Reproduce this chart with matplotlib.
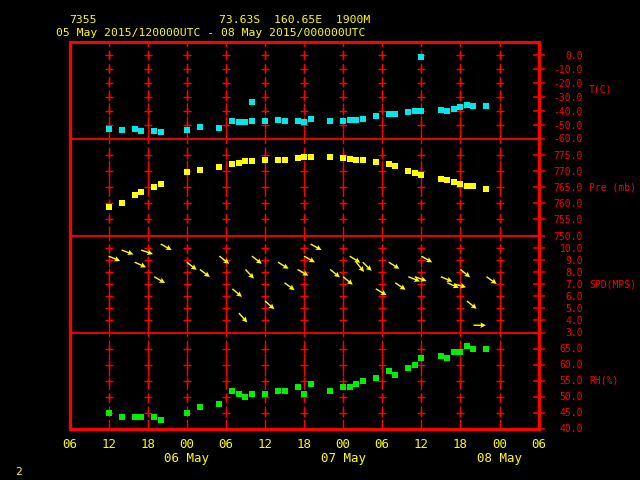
import numpy as np
import matplotlib
matplotlib.use("Agg")
import matplotlib.pyplot as plt
from matplotlib import transforms

# observation times, hours after 05 May 2015 12 UTC
hours = [0, 2, 4, 5, 7, 8, 12, 14, 17, 19, 20, 21, 22, 24, 26, 27, 29, 30, 31,
         34, 36, 37, 38, 39, 41, 43, 44, 46, 47, 48, 51, 52, 53, 54, 55, 56, 58]

temp = [-53.4, -54.1, -53.4, -54.8, -54.8, -55.5, -54.1, -51.9, -52.6, -47.6,
        -48.4, -48.4, -47.6, -47.6, -46.9, -47.6, -47.6, -48.4, -46.2, -47.6,
        -47.6, -46.9, -46.9, -46.2, -44.1, -42.6, -42.6, -41.2, -40.5, -39.8,
        -39.1, -39.8, -38.4, -37.6, -35.5, -36.9, -36.9]
# two extra (spurious) temperature reports
temp_extra_hours = [22, 48]
temp_extra = [-33.4, -1.2]

pres = [758.7, 760.2, 762.4, 763.3, 764.9, 765.8, 769.6, 770.2, 771.2, 772.1,
        772.4, 773.0, 773.0, 773.3, 773.3, 773.3, 774.0, 774.3, 774.3, 774.3,
        774.0, 773.7, 773.3, 773.3, 772.7, 772.1, 771.4, 769.9, 769.3, 768.7,
        767.4, 767.1, 766.5, 765.8, 765.2, 765.2, 764.3]

spd = [9.3, 9.8, 8.8, 9.8, 7.6, 10.3, 8.8, 8.2, 9.3, 6.6, 4.6, 8.2, 9.3, 5.6,
       8.8, 7.1, 8.2, 9.3, 10.3, 8.2, 7.6, 9.3, 8.8, 8.8, 6.6, 8.8, 7.1, 7.6,
       7.6, 9.3, 7.6, 7.1, 7.0, 8.2, 5.6, 3.6, 7.6]
wdir = [293, 290, 294, 289, 300, 299, 308, 307, 308, 310, 318, 317, 308, 311,
        302, 306, 300, 300, 299, 309, 310, 302, 321, 314, 300, 302, 304, 292,
        290, 300, 293, 294, 285, 309, 309, 270, 305]

rh = [44.8, 43.5, 43.5, 43.5, 43.5, 42.6, 44.8, 46.6, 47.6, 51.6, 50.7, 49.8,
      50.7, 50.7, 51.6, 51.6, 52.9, 50.7, 53.8, 51.6, 52.9, 52.9, 53.8, 54.7,
      55.7, 57.9, 56.6, 58.8, 59.7, 61.9, 62.8, 61.9, 63.8, 63.8, 65.9, 64.7,
      64.7]

xtick_hours = list(range(-6, 67, 6))
xtick_labels = ["06", "12", "18", "00", "06", "12", "18", "00", "06", "12", "18", "00", "06"]
date_hours = [12, 36, 60]
date_labels = ["06 May", "07 May", "08 May"]

panels = [
    ("T(C)", (-60, 10), np.arange(-60, 1, 10)),
    ("Pre (mb)", (750, 780), np.arange(750, 776, 5)),
    ("SPD(MPS)", (3, 11), np.arange(3, 11, 1)),
    ("RH(%)", (40, 70), np.arange(40, 66, 5)),
]

RED = "#ff0000"
YEL = "#ffff00"
FONT = "DejaVu Sans Mono"
plt.rcParams["font.family"] = FONT

fig = plt.figure(figsize=(6.4, 4.8), dpi=100, facecolor="black")

left_px, right_px = 69.5, 538.6
# panel edges in pixels from the top
edges_px = [41.5, 138.5, 235.5, 332.5, 428.5]
grid_hours = list(range(0, 61, 6))

axes = []
for i, (label, ylim, ticks) in enumerate(panels):
    top, bot = edges_px[i], edges_px[i + 1]
    ax = fig.add_axes([left_px / 640, 1 - bot / 480,
                       (right_px - left_px) / 640, (bot - top) / 480])
    ax.patch.set_visible(False)  # so the next panel does not paint over the divider
    ax.set_xlim(-6, 66)
    ax.set_ylim(*ylim)
    for s in ax.spines.values():
        s.set_color(RED)
    ax.spines["left"].set_linewidth(2.3)
    ax.spines["right"].set_linewidth(2.3)
    ax.spines["top"].set_linewidth(2.2)
    ax.spines["bottom"].set_linewidth(2.2 if i == 3 else 1.3)
    ax.spines["top"].set_visible(i == 0)

    # dashed time grid with crosses at tick levels
    for h in grid_hours:
        ax.axvline(h, color=RED, lw=1.0, ls=(0, (7, 2.5)), zorder=1)
    inner = [t for t in ticks if t != ylim[0]]
    gx, gy = np.meshgrid(grid_hours, inner)
    ax.plot(gx.ravel(), gy.ravel(), ls="none", marker="+", ms=5.6, mew=1.0,
            color=RED, zorder=1)

    ax.set_xticks([])
    ax.yaxis.tick_right()
    ax.set_yticks(ticks)
    ax.set_yticklabels([f"{t:.1f}" for t in ticks])
    ax.tick_params(axis="y", direction="inout", length=8.6, width=1.1,
                   color=RED, labelcolor=RED, labelsize=7, pad=27.7)
    plt.setp(ax.get_yticklabels(), ha="right", family=FONT)
    ax.text(1 + (589 - right_px) / (right_px - left_px), 0.5, label,
            transform=ax.transAxes, ha="left", va="center", color=RED,
            fontsize=7)
    axes.append(ax)

ax_t, ax_p, ax_w, ax_r = axes

ax_t.plot(hours, temp, ls="none", marker="s", ms=3.9, mew=0, color="#00e8e8", zorder=3)
ax_t.plot(temp_extra_hours, temp_extra, ls="none", marker="s", ms=3.9, mew=0,
          color="#00e8e8", zorder=3)
ax_p.plot(hours, pres, ls="none", marker="s", ms=3.9, mew=0, color=YEL, zorder=3)
ax_r.plot(hours, rh, ls="none", marker="s", ms=3.9, mew=0, color="#00ee00", zorder=3)

# wind arrows drawn at (time, speed), pointing downwind
b = np.radians(np.array(wdir) - 180)
ax_w.quiver(hours, spd, np.sin(b), np.cos(b), angles="uv", scale_units="dots",
            scale=1 / 12.5, units="dots", width=1.4, headwidth=4.0,
            headlength=4.0, headaxislength=3.4, color=YEL, pivot="tail", zorder=3)

# time axis labels
tr = transforms.blended_transform_factory(ax_r.transData, fig.transFigure)
for h, lab in zip(xtick_hours, xtick_labels):
    ax_r.text(h, 1 - 448.3 / 480, lab, transform=tr, ha="center", va="baseline",
              color=YEL, fontsize=9, clip_on=False)
for h, lab in zip(date_hours, date_labels):
    ax_r.text(h, 1 - 461.7 / 480, lab, transform=tr, ha="center", va="baseline",
              color=YEL, fontsize=9, clip_on=False)

# header
fig.text(69 / 640, 1 - 22.7 / 480, "7355", color=YEL, fontsize=8.2, va="baseline")
fig.text(219 / 640, 1 - 22.7 / 480, "73.63S  160.65E  1900M", color=YEL,
         fontsize=8.2, va="baseline")
fig.text(56 / 640, 1 - 36 / 480,
         "05 May 2015/120000UTC - 08 May 2015/000000UTC", color=YEL,
         fontsize=8.2, va="baseline")
fig.text(15 / 640, 1 - 475 / 480, "2", color=YEL, fontsize=8, va="baseline")

fig.savefig("out.png", dpi=100, facecolor="black")
